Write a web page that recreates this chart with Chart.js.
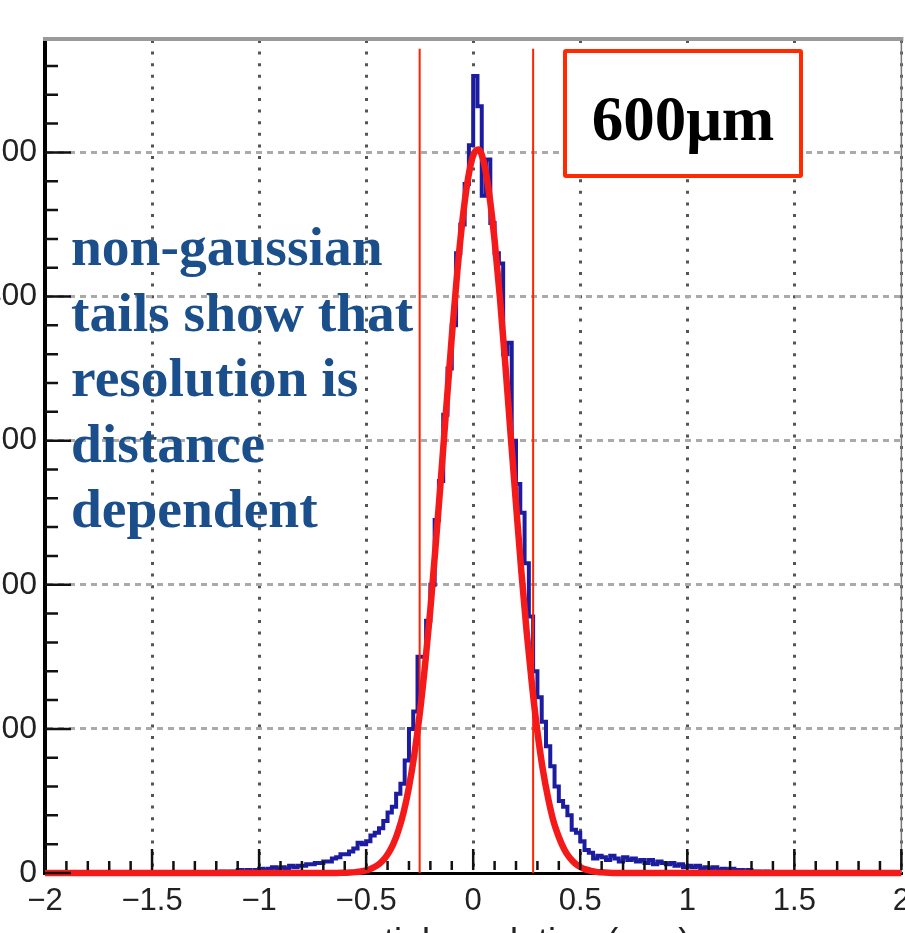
<!DOCTYPE html>
<html>
<head>
<meta charset="utf-8">
<title>spatial resolution 600um</title>
<script src="https://cdn.jsdelivr.net/npm/chart.js@4.4.0/dist/chart.umd.min.js"></script>
<style>
  html, body { margin: 0; padding: 0; background: #fff; }
  #wrap { position: relative; width: 905px; height: 933px; overflow: hidden; }
  #chart { position: absolute; left: -40px; top: 0; }
  .note {
    position: absolute; left: 71px; top: 214px;
    font: bold 55.5px "Liberation Serif", "DejaVu Serif", serif;
    line-height: 65.5px; color: #1b4f8c; white-space: nowrap;
  }
  .tag {
    position: absolute; left: 563px; top: 49px; width: 240px; height: 129px;
    box-sizing: border-box; border: 4.5px solid #ff2a00; border-radius: 3px;
    background: #fff; text-align: center; color: #000;
    font: bold 63px "Liberation Serif", "DejaVu Serif", serif; line-height: 120px;
  }
  .tag span { position: relative; top: 6px; }
  .xtitle {
    position: absolute; left: 326px; top: 922px;
    font: 36px "Liberation Sans", Arial, sans-serif; line-height: 40px;
    color: #222; white-space: nowrap;
  }
</style>
</head>
<body>
<div id="wrap">
  <canvas id="chart" width="960" height="960"></canvas>
  <div class="note">non-gaussian<br>tails show that<br>resolution is<br>distance<br>dependent</div>
  <div class="tag"><span>600μm</span></div>
  <div class="xtitle">spatial resolution (mm)</div>
</div>
<script>
// axis ticks
const xTickValues = [-2, -1.5, -1, -0.5, 0, 0.5, 1, 1.5, 2];
const yTickValues = [0, 100, 200, 300, 400, 500];

// measured histogram (bins of 0.02 starting at -1.2)
const histStart = -1.2;
const histBinWidth = 0.02;
const histCounts = [
  0, 1, 0, 1, 1, 2, 1, 2, 1, 2,
  3, 2, 3, 4, 3, 4, 3, 5, 4, 5,
  5, 6, 6, 7, 7, 8, 8, 10, 11, 13,
  13, 15, 17, 21, 20, 22, 26, 28, 31, 36,
  42, 46, 55, 62, 78, 100, 112, 150, 150, 175,
  200, 245, 272, 318, 350, 380, 430, 450, 478, 505,
  553, 532, 470, 495, 451, 430, 423, 360, 368, 300,
  270, 250, 215, 178, 140, 122, 105, 88, 74, 60,
  50, 46, 40, 30, 28, 22, 16, 14, 10, 12,
  11, 9, 12, 10, 8, 11, 9, 10, 8, 9,
  7, 9, 6, 8, 7, 6, 7, 5, 6, 4,
  5, 4, 5, 3, 4, 3, 4, 2, 3, 2,
  3, 2, 2, 1, 2, 1, 1, 0, 1, 0
];

// gaussian fit curve
const fitX = [
  -2, -0.65, -0.6, -0.575, -0.55, -0.525, -0.5, -0.475, -0.45, -0.425,
  -0.4, -0.375, -0.35, -0.325, -0.3, -0.275, -0.25, -0.225, -0.2, -0.175,
  -0.15, -0.125, -0.1, -0.075, -0.05, -0.025, 0, 0.025, 0.05, 0.075,
  0.1, 0.125, 0.15, 0.175, 0.2, 0.225, 0.25, 0.275, 0.3, 0.325,
  0.35, 0.375, 0.4, 0.425, 0.45, 0.475, 0.5, 0.525, 0.55, 0.575,
  0.6, 0.65, 2
];
const fitY = [
  0, 0, 0.2, 0.3, 0.6, 1.0, 1.8, 3.1, 5.1, 8.1,
  12.8, 19.5, 29.1, 42.1, 59.6, 82.1, 110, 144, 183, 228,
  275, 324, 372, 416, 453, 481, 498, 502, 493, 471,
  439, 399, 353, 304, 256, 209, 167, 130, 98, 72,
  52, 36, 25, 16.5, 10.7, 6.8, 4.2, 2.5, 1.5, 0.8,
  0.5, 0, 0
];

// resolution window markers
const cutX = [-0.25, 0.28];
const cutTop = 572;

const histPoints = histCounts.map((c, i) => ({ x: histStart + (i + 0.5) * histBinWidth, y: c }));
const fitPoints = fitX.map((x, i) => ({ x: x, y: fitY[i] }));

function fmt(v) {
  return String(v).replace("-", "\u2212");
}

// frame + inner major/minor ticks like ROOT draws them
const frameAndTicks = {
  id: "frameAndTicks",
  afterDatasetsDraw(chart) {
    const { ctx, chartArea: a } = chart;
    const x = chart.scales.x;
    const y = chart.scales.y;
    ctx.save();
    ctx.strokeStyle = "#9a9a9a";
    ctx.lineWidth = 4;
    ctx.beginPath();
    ctx.moveTo(a.left - 2, a.top - 1);
    ctx.lineTo(a.right + 2, a.top - 1);
    ctx.stroke();
    ctx.strokeStyle = "#777";
    ctx.lineWidth = 1.5;
    ctx.beginPath();
    ctx.moveTo(a.right, a.top);
    ctx.lineTo(a.right, a.bottom);
    ctx.stroke();

    ctx.strokeStyle = "#111";
    ctx.lineWidth = 2.5;
    ctx.beginPath();
    for (let i = 0; i <= 40; i++) {
      const px = x.getPixelForValue(-2 + i * 0.1);
      const len = i % 5 === 0 ? 24 : 12;
      ctx.moveTo(px, a.bottom - 3);
      ctx.lineTo(px, a.bottom - len);
    }
    for (let v = 0; v <= y.max; v += 20) {
      const py = y.getPixelForValue(v);
      const len = v % 100 === 0 ? 26 : 13;
      ctx.moveTo(a.left, py);
      ctx.lineTo(a.left + len, py);
    }
    ctx.stroke();
    ctx.restore();
  }
};

new Chart(document.getElementById("chart"), {
  type: "line",
  data: {
    datasets: [
      {
        data: fitPoints,
        borderColor: "#f51a1a",
        borderWidth: 6.5,
        cubicInterpolationMode: "monotone",
        clip: false,
        order: 0
      },
      {
        data: [{ x: cutX[0], y: 0 }, { x: cutX[0], y: cutTop }],
        borderColor: "#ff2200",
        borderWidth: 2,
        order: 1
      },
      {
        data: [{ x: cutX[1], y: 0 }, { x: cutX[1], y: cutTop }],
        borderColor: "#ff2200",
        borderWidth: 2,
        order: 1
      },
      {
        data: histPoints,
        borderColor: "#1c1ca0",
        borderWidth: 4,
        stepped: "middle",
        order: 2
      }
    ]
  },
  options: {
    responsive: false,
    animation: false,
    devicePixelRatio: 1,
    layout: { padding: { top: 40, right: 16, left: 0, bottom: 0 } },
    plugins: {
      legend: { display: false },
      tooltip: { enabled: false }
    },
    elements: { point: { radius: 0 } },
    scales: {
      x: {
        type: "linear",
        min: -2,
        max: 2,
        afterBuildTicks: (s) => { s.ticks = xTickValues.map((v) => ({ value: v })); },
        afterFit: (s) => { s.height = 87; },
        grid: { color: "#555", lineWidth: 3, drawTicks: false },
        border: { display: true, color: "#000", width: 3, dash: [3, 8.6] },
        ticks: {
          padding: 10,
          color: "#222",
          autoSkip: false,
          maxRotation: 0,
          font: { family: "Liberation Sans", size: 31 },
          callback: (v) => fmt(v)
        }
      },
      y: {
        type: "linear",
        min: 0,
        max: 578,
        afterBuildTicks: (s) => { s.ticks = yTickValues.map((v) => ({ value: v })); },
        afterFit: (s) => { s.width = 85; },
        grid: { color: "#aaa", lineWidth: 3, drawTicks: false },
        border: { display: true, color: "#000", width: 4, dash: [6, 5] },
        ticks: {
          padding: 8,
          color: "#222",
          font: { family: "Liberation Sans", size: 32 },
          callback: (v) => String(v)
        }
      }
    }
  },
  plugins: [frameAndTicks]
});
</script>
</body>
</html>
